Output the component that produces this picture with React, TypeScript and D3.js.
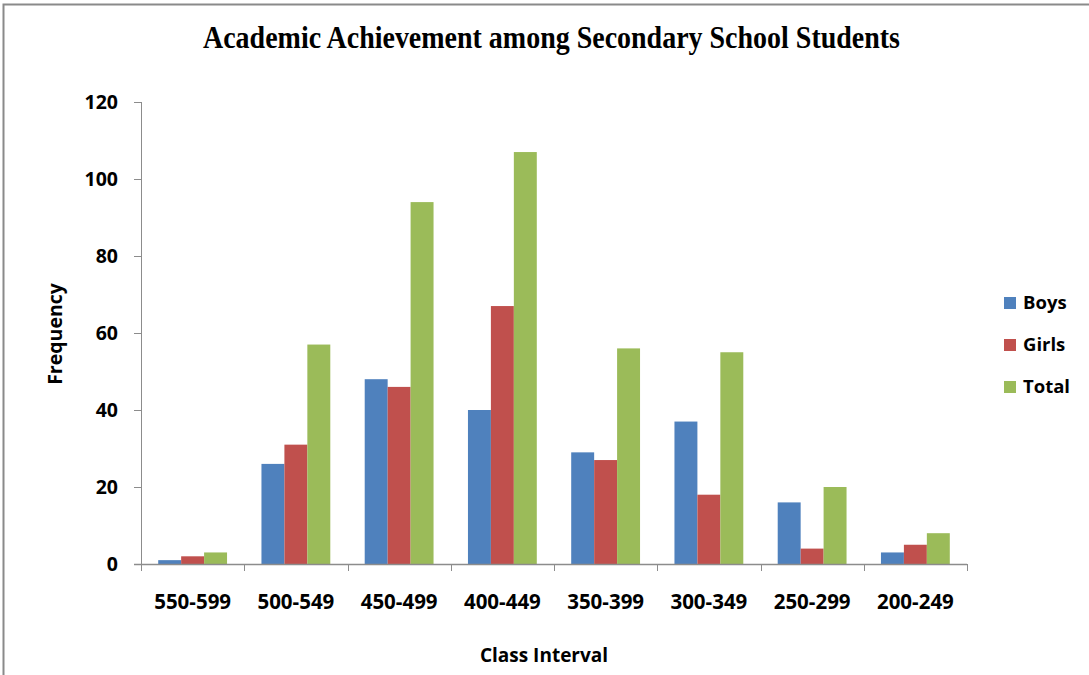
import React from "react";
import * as d3 from "d3";

const categories = ["550-599", "500-549", "450-499", "400-449", "350-399", "300-349", "250-299", "200-249"];
const boys = [1, 26, 48, 40, 29, 37, 16, 3];
const girls = [2, 31, 46, 67, 27, 18, 4, 5];
const total = [3, 57, 94, 107, 56, 55, 20, 8];
const seriesNames = ["Boys", "Girls", "Total"];
const seriesColors = ["#4F81BD", "#C0504D", "#9BBB59"];
const yTicks = [0, 20, 40, 60, 80, 100, 120];

const W = 1089;
const H = 675;
const plot = { left: 141, right: 967, top: 102, bottom: 564 };
const sans = "'Open Sans', 'Noto Sans', sans-serif";
const axisColor = "#8c8c8c";

export default function App() {
  const values = [boys, girls, total];
  const x = d3.scaleBand<string>().domain(categories).range([plot.left, plot.right]).paddingInner(0).paddingOuter(0);
  const xs = d3.scaleBand<string>().domain(seriesNames).range([0, x.bandwidth()]).paddingInner(0).paddingOuter(0.75);
  const y = d3.scaleLinear().domain([0, 120]).range([plot.bottom, plot.top]);

  const boundaries = categories.map((c) => x(c) as number).concat([plot.right]);

  return (
    <div style={{ position: "absolute", left: 0, top: 0 }}>
      <svg width={W} height={H} style={{ display: "block", background: "#fff" }}>
        {/* outer frame */}
        <rect x={3.5} y={4.5} width={W + 10} height={H + 10} fill="none" stroke="#8a8a8a" strokeWidth={2} />

        {/* title */}
        <text
          x={551.5}
          y={48}
          textAnchor="middle"
          fontFamily="'Liberation Serif', 'DejaVu Serif', serif"
          fontWeight="bold"
          fontSize={31}
          textLength={697}
          lengthAdjust="spacingAndGlyphs"
          fill="#000"
        >
          Academic Achievement among Secondary School Students
        </text>

        {/* bars */}
        {seriesNames.map((s, si) => (
          <g key={s} fill={seriesColors[si]}>
            {categories.map((c, ci) => {
              const v = values[si][ci];
              return (
                <rect
                  key={c}
                  x={(x(c) as number) + (xs(s) as number)}
                  y={y(v)}
                  width={xs.bandwidth()}
                  height={y(0) - y(v)}
                />
              );
            })}
          </g>
        ))}

        {/* y axis */}
        <line x1={plot.left + 0.5} x2={plot.left + 0.5} y1={plot.top} y2={plot.bottom} stroke={axisColor} strokeWidth={1} />
        {yTicks.map((t) => (
          <g key={t}>
            <line x1={plot.left - 7} x2={plot.left} y1={Math.round(y(t)) + 0.5} y2={Math.round(y(t)) + 0.5} stroke={axisColor} />
            <text
              x={118}
              y={y(t)}
              dy="0.36em"
              textAnchor="end"
              fontFamily={sans}
              fontWeight="bold"
              fontSize={19.5}
              fill="#000"
            >
              {t}
            </text>
          </g>
        ))}

        {/* x axis */}
        <line x1={plot.left - 7} x2={plot.right} y1={plot.bottom + 0.5} y2={plot.bottom + 0.5} stroke={axisColor} strokeWidth={1.5} />
        {boundaries.map((bx, i) => (
          <line key={i} x1={Math.round(bx) + 0.5} x2={Math.round(bx) + 0.5} y1={plot.bottom} y2={plot.bottom + 7} stroke={axisColor} />
        ))}
        {categories.map((c) => (
          <text
            key={c}
            x={(x(c) as number) + x.bandwidth() / 2}
            y={609}
            textAnchor="middle"
            fontFamily={sans}
            fontWeight="bold"
            fontSize={20.5}
            fill="#000"
          >
            {c}
          </text>
        ))}

        {/* axis titles */}
        <text x={544} y={662} textAnchor="middle" fontFamily={sans} fontWeight="bold" fontSize={19} fill="#000">
          Class Interval
        </text>
        <text
          transform="translate(62,334) rotate(-90)"
          textAnchor="middle"
          fontFamily={sans}
          fontWeight="bold"
          fontSize={19.5}
          fill="#000"
        >
          Frequency
        </text>

        {/* legend */}
        {seriesNames.map((s, i) => (
          <g key={s} transform={`translate(1004, ${297 + i * 42})`}>
            <rect x={0} y={0} width={12} height={12} fill={seriesColors[i]} />
            <text x={19} y={12} fontFamily={sans} fontWeight="bold" fontSize={18.5} fill="#000">
              {s}
            </text>
          </g>
        ))}
      </svg>
    </div>
  );
}
